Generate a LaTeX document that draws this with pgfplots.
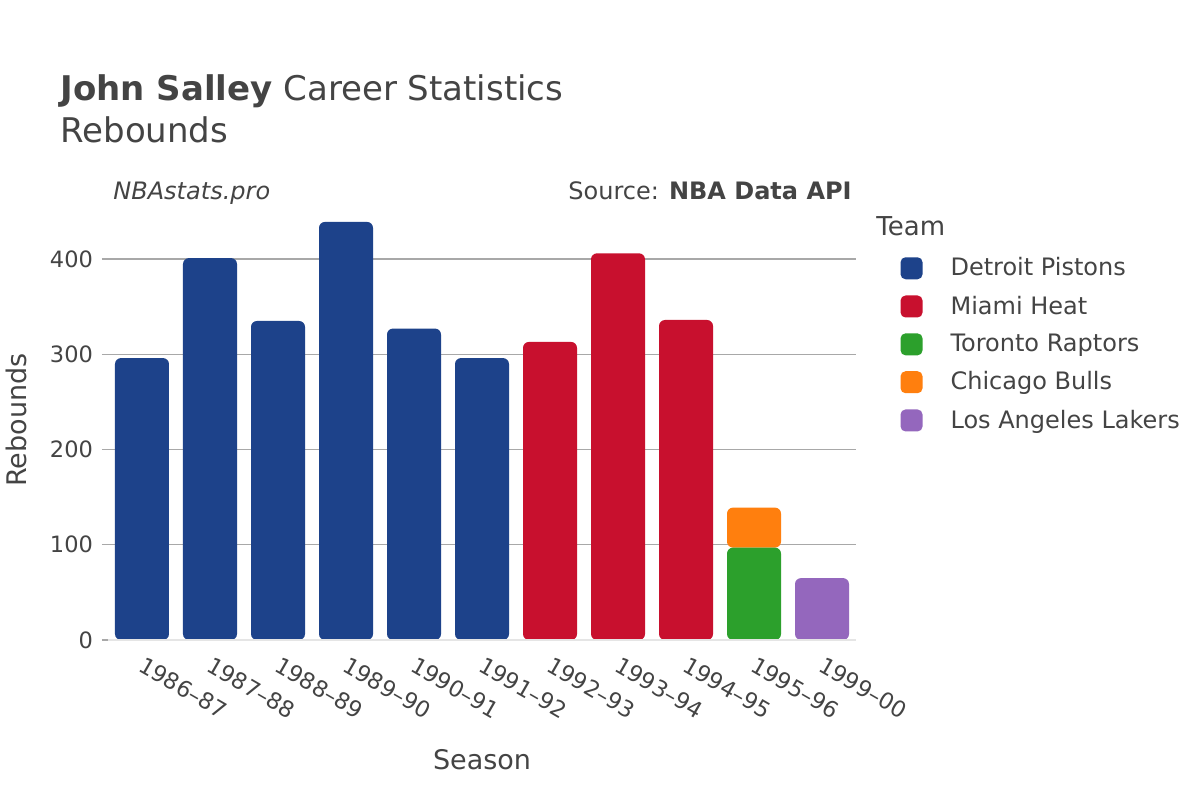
\documentclass[border=0pt]{standalone}
\usepackage{fontspec}
\setmainfont{DejaVu Sans}
\usepackage{pgfplots}
\pgfplotsset{compat=1.18}
\definecolor{txt}{HTML}{444444}
\definecolor{det}{HTML}{1D428A}
\definecolor{mia}{HTML}{C8102E}
\definecolor{tor}{HTML}{2CA02C}
\definecolor{chi}{HTML}{FF7F0E}
\definecolor{lal}{HTML}{9467BD}
\definecolor{grid}{HTML}{A8A8A8}

\begin{document}
\begin{tikzpicture}
% page = 1200 x 800 px, 1px = 0.5pt
\path[fill=white] (0pt,0pt) rectangle (600pt,400pt);

\node[anchor=base west, text=txt, inner sep=0pt, font=\fontsize{17}{20}\selectfont]
  at (30pt,349.5pt) {\textbf{John Salley} Career Statistics};
\node[anchor=base west, text=txt, inner sep=0pt, font=\fontsize{17}{20}\selectfont]
  at (30pt,328.5pt) {Rebounds};
\node[anchor=base west, text=txt, inner sep=0pt, font=\fontsize{12}{14}\selectfont\itshape]
  at (56.5pt,300.5pt) {NBAstats.pro};
\node[anchor=base east, text=txt, inner sep=0pt, font=\fontsize{12}{14}\selectfont]
  at (426pt,300.5pt) {Source: \textbf{NBA Data API}};
\node[anchor=base west, text=txt, inner sep=0pt, font=\fontsize{13}{15}\selectfont]
  at (438pt,282.5pt) {Team};
\node[rotate=90, text=txt, inner sep=0pt, font=\fontsize{13.5}{16}\selectfont]
  at (8pt,190pt) {Rebounds};
\node[text=txt, inner sep=0pt, font=\fontsize{13.5}{16}\selectfont]
  at (241pt,20pt) {Season};

\begin{axis}[
  at={(54pt,80pt)}, anchor=south west,
  scale only axis,
  width=374pt, height=220pt,
  ybar stacked,
  bar width=27pt,
  xmin=-0.5, xmax=10.5,
  ymin=0, ymax=462,
  xtick={0,...,10},
  xticklabels={1986--87,1987--88,1988--89,1989--90,1990--91,1991--92,1992--93,1993--94,1994--95,1995--96,1999--00},
  ytick={0,100,200,300,400},
  ytick pos=left,
  axis line style={draw=none},
  xtick style={draw=none},
  ytick style={draw=grid, line width=0.6pt},
  tick align=outside,
  major tick length=3pt,
  ymajorgrids,
  grid style={draw=grid, line width=0.6pt},
  /pgf/number format/assume math mode=true,
  yticklabel style={text=txt, font=\fontsize{11.25}{13}\selectfont, xshift=-1pt},
  xticklabel style={text=txt, font=\fontsize{11.25}{13}\selectfont, rotate=-30, anchor=north west, xshift=0.5pt, yshift=0pt},
  legend style={at={(axis description cs:1.059,0.879)}, anchor=north west,
    draw=none, fill=none, text=txt, font=\fontsize{12}{14}\selectfont,
    row sep=4.5pt, inner sep=0pt},
  legend cell align=left,
  legend image code/.code={\fill[#1,/tikz/.cd,draw=none,rounded corners=2.5pt] (0pt,-5.5pt) rectangle (11pt,5.5pt);},
  every axis plot/.append style={draw=none, rounded corners=3pt},
  clip=false,
]
\draw[draw=black!10, line width=1pt] (axis cs:-0.5,0) -- (axis cs:10.5,0);
\addplot[fill=det] coordinates {(0,296) (1,401) (2,335) (3,439) (4,327) (5,296) (6,0) (7,0) (8,0) (9,0) (10,0)};
\addlegendentry{\hspace{12pt}Detroit Pistons}
\addplot[fill=mia] coordinates {(0,0) (1,0) (2,0) (3,0) (4,0) (5,0) (6,313) (7,406) (8,336) (9,0) (10,0)};
\addlegendentry{\hspace{12pt}Miami Heat}
\addplot[fill=tor] coordinates {(0,0) (1,0) (2,0) (3,0) (4,0) (5,0) (6,0) (7,0) (8,0) (9,97) (10,0)};
\addlegendentry{\hspace{12pt}Toronto Raptors}
\addplot[fill=chi] coordinates {(0,0) (1,0) (2,0) (3,0) (4,0) (5,0) (6,0) (7,0) (8,0) (9,42) (10,0)};
\addlegendentry{\hspace{12pt}Chicago Bulls}
\addplot[fill=lal] coordinates {(0,0) (1,0) (2,0) (3,0) (4,0) (5,0) (6,0) (7,0) (8,0) (9,0) (10,65)};
\addlegendentry{\hspace{12pt}Los Angeles Lakers}
\end{axis}
\end{tikzpicture}
\end{document}
